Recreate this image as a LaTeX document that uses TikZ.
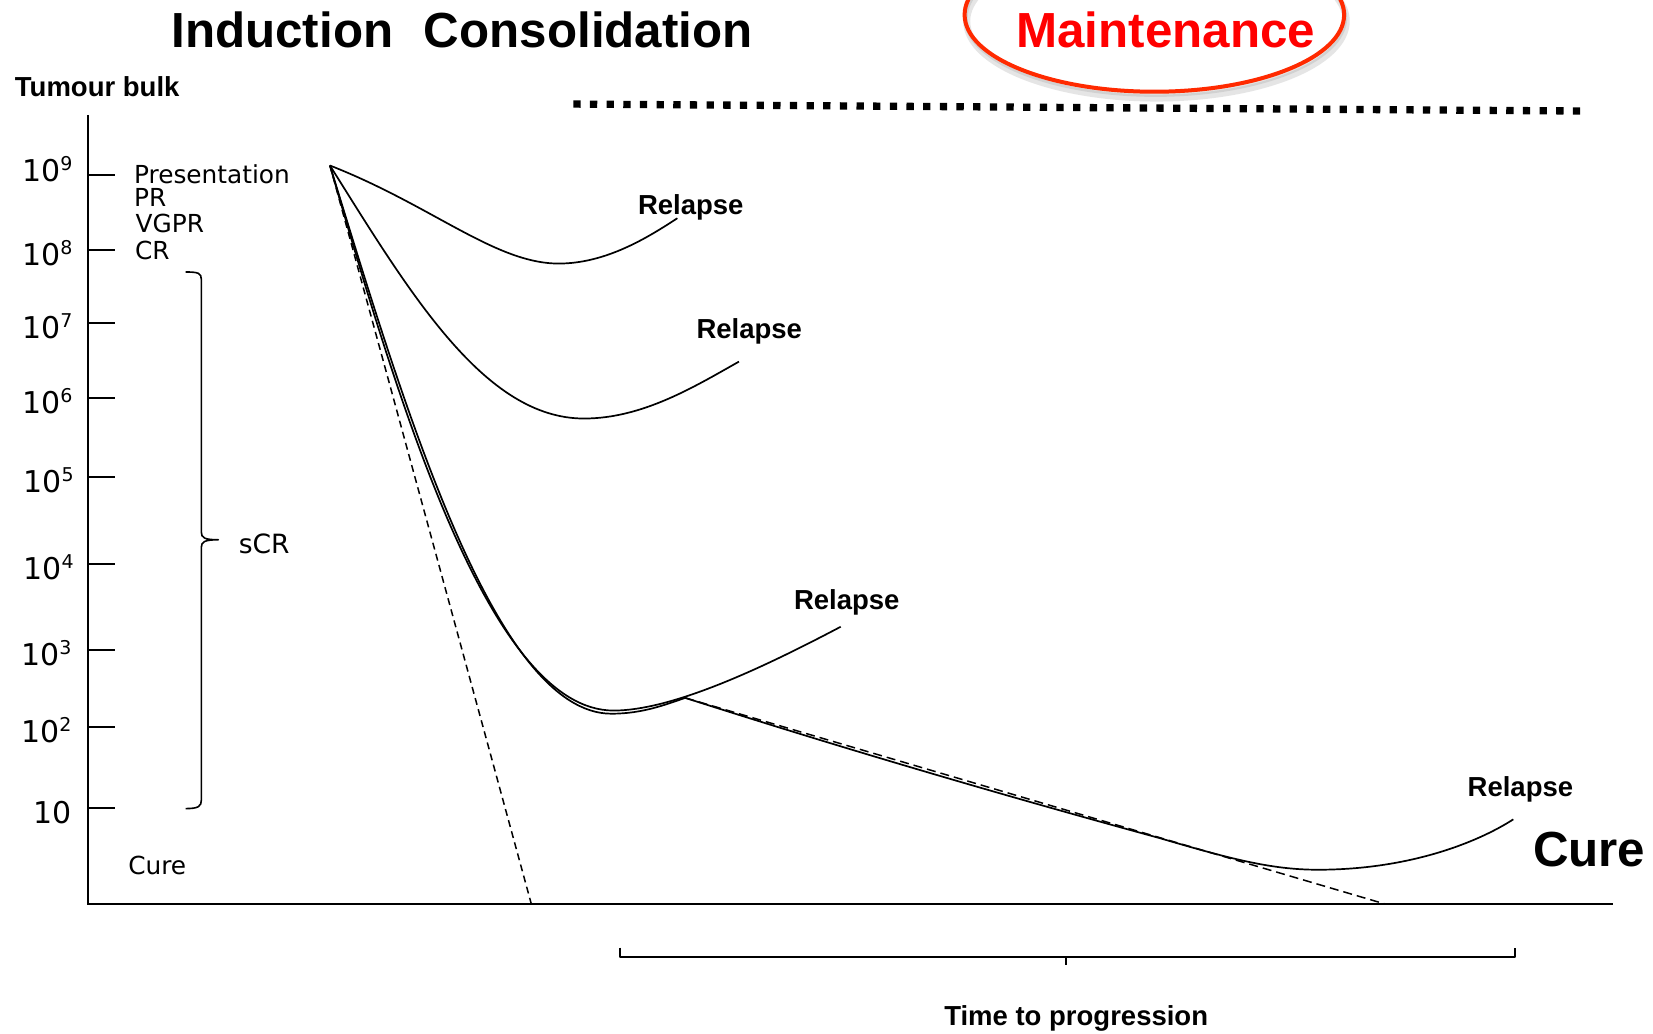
\documentclass[tikz,border=0pt]{standalone}
\usepackage{fontspec}
\setmainfont{DejaVu Sans}
\newfontfamily\arialf{Liberation Sans}
\definecolor{ellred}{RGB}{255,42,0}
\definecolor{txtred}{RGB}{255,0,0}
\newcommand\tenexp[1]{{\fontsize{30}{30}\selectfont 10}\raisebox{11pt}{\fontsize{19}{19}\selectfont #1}}
\begin{document}
\begin{tikzpicture}[x=1.0542pt,y=-1.0542pt,
  reg/.style={font=\fontsize{24.8}{24.8}\selectfont, inner sep=0pt, anchor=base west},
  bld/.style={font=\arialf\bfseries\fontsize{27.5}{27.5}\selectfont, inner sep=0pt, anchor=base west},
  big/.style={font=\arialf\bfseries\fontsize{49.3}{49.3}\selectfont, inner sep=0pt, anchor=base west},
  ylab/.style={inner sep=0pt, anchor=base east},
  crv/.style={line width=1.7pt, line join=round},
  dshA/.style={line width=1.5pt, dash pattern=on 7pt off 4.5pt},
  dshB/.style={line width=1.5pt, dash pattern=on 9pt off 5pt},
  axisline/.style={line width=2pt},
  tickline/.style={line width=2pt},
  bracket/.style={line width=1.6pt, line join=round}]
\useasboundingbox (0,0) rectangle (1568,980);
\clip (0,0) rectangle (1568,980);
\fill[white] (0,0) rectangle (1568,980);

% Maintenance ellipse with soft shadow
\draw[black!40, opacity=0.25, line width=7pt] (1097,20) ellipse [x radius=180, y radius=73];
\draw[black!40, opacity=0.25, line width=4pt] (1096,17) ellipse [x radius=180, y radius=73];
\draw[ellred, line width=4pt] (1095,14) ellipse [x radius=180, y radius=73];

% titles
\node[big] (ind) at (162.5,44.9) {Induction};
\node[big] (con) at (402,44.9) {Consolidation};
\node[big, text=txtred] (mnt) at (964,45) {Maintenance};
\node[bld] (tb) at (14,91.7) {Tumour bulk};

% dotted maintenance line
\coordinate (dl) at (543.8,98.7);
\coordinate (dr) at (1499.2,105.3);
\draw[line width=7.3pt, dash pattern=on 7.3pt off 9.36pt] (dl) -- (dr);

% axes
\coordinate (O) at (83.2,857.5);
\coordinate (Ytop) at (83.2,109);
\coordinate (Xend) at (1530.4,857.5);
\draw[axisline] (Ytop) -- (O) -- (Xend);

% ticks
\foreach \yy in {166,237,306,377.3,452.5,535.3,616.4,690,766.8}
  \draw[tickline] (83.2,\yy) -- (109,\yy);

% y labels
\node[ylab] (y9) at (69,172.4) {\tenexp{9}};
\node[ylab] (y8) at (69,251.4) {\tenexp{8}};
\node[ylab] (y7) at (69,321.3) {\tenexp{7}};
\node[ylab] (y6) at (69,392.7) {\tenexp{6}};
\node[ylab] (y5) at (70,466.7) {\tenexp{5}};
\node[ylab] (y4) at (70,550) {\tenexp{4}};
\node[ylab] (y3) at (68,631) {\tenexp{3}};
\node[ylab] (y2) at (68,704.3) {\tenexp{2}};
\node[ylab] (y1) at (68,781.4) {\fontsize{30}{30}\selectfont 10};

% response labels
\node[reg] (pres) at (127,174) {Presentation};
\node[reg] (pr) at (127,196) {PR};
\node[reg] (vgpr) at (128.5,221) {VGPR};
\node[reg] (cr) at (128,246) {CR};
\node[reg, font=\fontsize{26.5}{26.5}\selectfont] (scr) at (226.4,525) {sCR};
\node[reg] (cure0) at (121.5,829.5) {Cure};

% sCR brace
\draw[bracket] (176,258) .. controls (188,258) and (191,259) .. (191,265) -- (191,505)
  .. controls (191,510) and (194,512) .. (207,512)
  .. controls (194,512) and (191,514) .. (191,519) -- (191,759)
  .. controls (191,765) and (188,767) .. (176,767);

% curves
\coordinate (S) at (313,157);
\coordinate (J) at (650,662);
\draw[crv] (S) .. controls (410,195) and (470,250) .. (530,250) .. controls (575,250) and (615,225) .. (642.5,207);
\draw[crv] (S) .. controls (390,280) and (460,397) .. (554,397) .. controls (610,397) and (660,366) .. (701,343);
\draw[crv] (S) .. controls (380,390) and (466,674) .. (582,674) .. controls (640,674) and (730,630) .. (797.5,594.5);
\draw[crv] (S) .. controls (384,388) and (470,677) .. (580,677) .. controls (610,677) and (632,668) .. (J)
  .. controls (800,710) and (950,754) .. (1100,795) .. controls (1165,814) and (1205,825) .. (1250,825)
  .. controls (1335,825) and (1400,800) .. (1435.5,777.2);
\draw[dshA] (S) -- (504,857.5);
\draw[dshB] (J) -- (1313.8,857.5);

% relapse labels
\node[bld] (r1) at (605,203) {Relapse};
\node[bld] (r2) at (660.5,321) {Relapse};
\node[bld] (r3) at (753,578.6) {Relapse};
\node[bld] (r4) at (1392,755.7) {Relapse};
\node[big] (cure) at (1454,822) {Cure};

% time to progression bracket
\draw[bracket] (588,899) -- (588,907.5) -- (1436.8,907.5) -- (1436.8,899);
\draw[bracket] (1011,907.5) -- (1011,915.5);
\node[bld] (ttp) at (895.5,973) {Time to progression};
\end{tikzpicture}
\end{document}
